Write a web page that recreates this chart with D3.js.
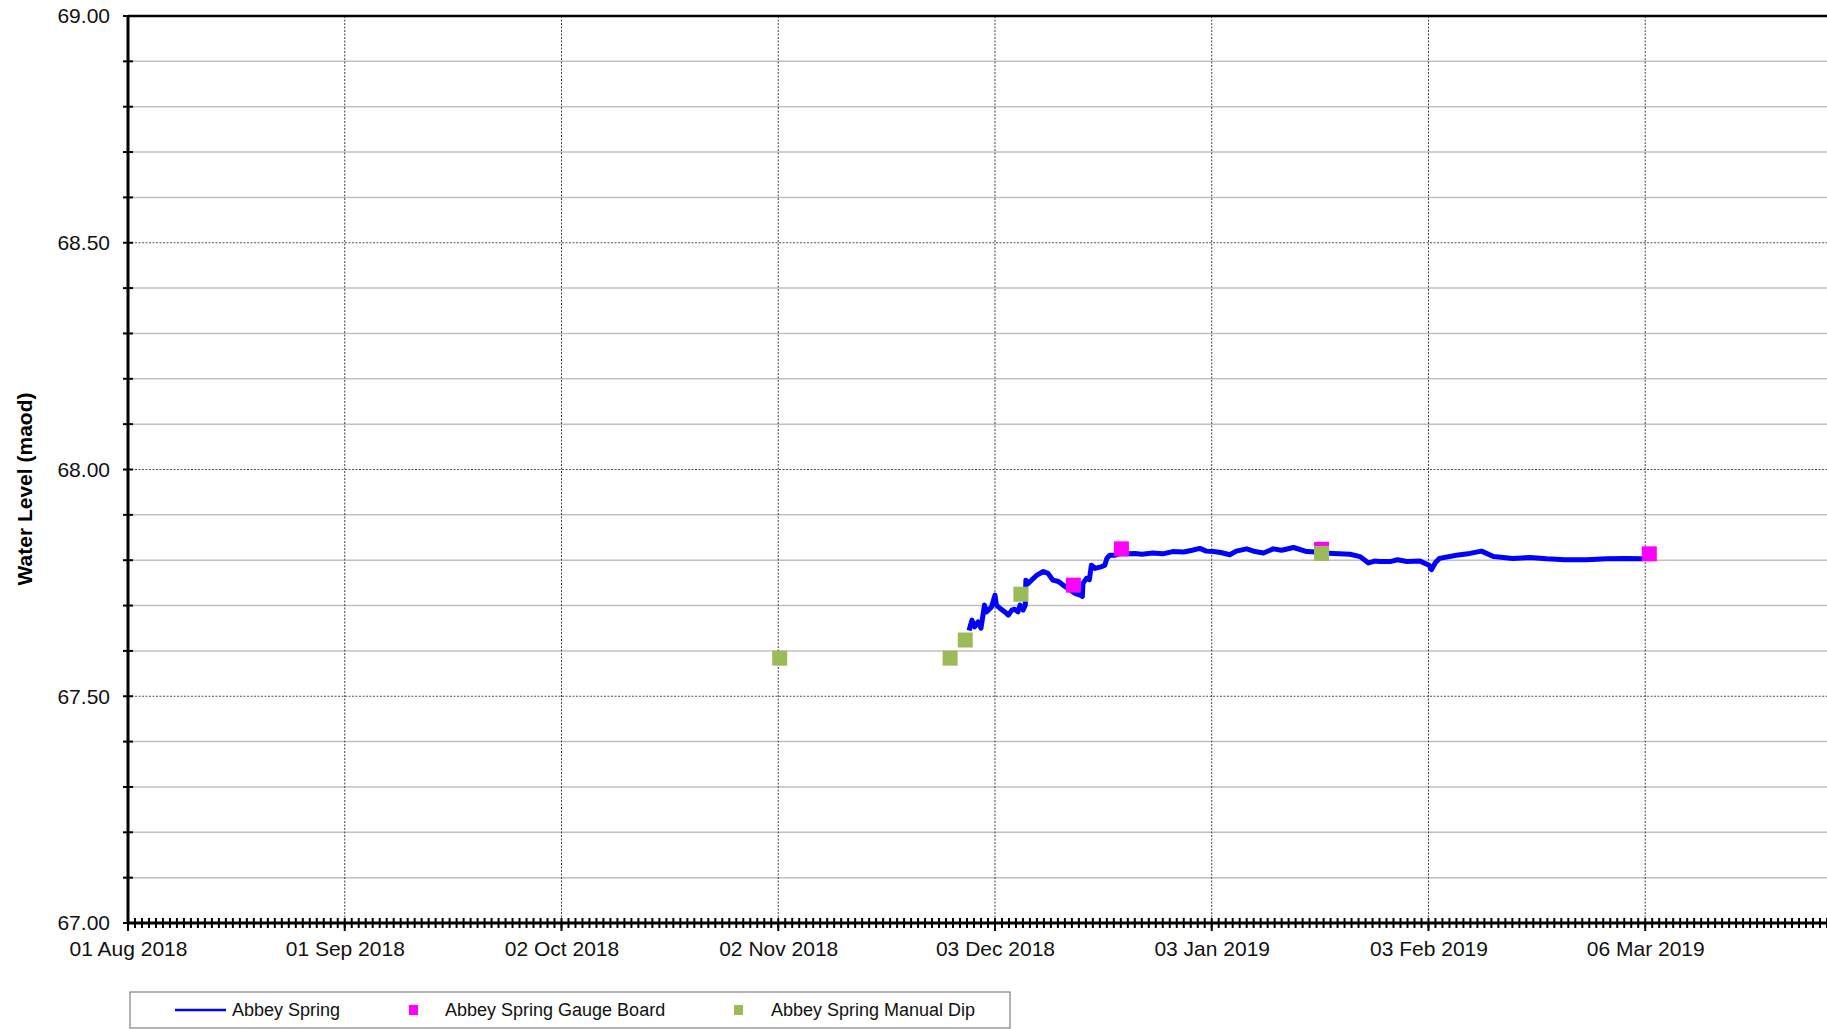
<!DOCTYPE html>
<html>
<head>
<meta charset="utf-8">
<script src="https://cdn.jsdelivr.net/npm/d3@7"></script>
<style>
body { margin: 0; background: #fff; }
text { font-family: "Liberation Sans", Arial, sans-serif; }
</style>
</head>
<body>
<div id="chart"></div>
<script>
// Abbey Spring logger (date, water level maod)
var springDates = ["2018-11-29 07:00","2018-11-29 17:00","2018-11-30 02:00","2018-11-30 14:00","2018-12-01 00:00",
  "2018-12-01 12:00","2018-12-01 19:00","2018-12-02 12:00","2018-12-03 00:00","2018-12-03 05:00","2018-12-03 17:00",
  "2018-12-04 10:00","2018-12-04 22:00","2018-12-05 10:00","2018-12-05 19:00","2018-12-06 07:00","2018-12-06 14:00",
  "2018-12-07 00:00","2018-12-07 08:00","2018-12-07 10:00","2018-12-07 19:00","2018-12-08 12:00","2018-12-09 00:00",
  "2018-12-09 22:00","2018-12-10 14:00","2018-12-11 07:00","2018-12-12 02:00","2018-12-13 00:00","2018-12-13 17:00",
  "2018-12-14 10:00","2018-12-15 05:00","2018-12-15 12:00","2018-12-15 14:00","2018-12-16 02:00","2018-12-16 12:00",
  "2018-12-16 19:00","2018-12-17 07:00","2018-12-18 07:00","2018-12-18 17:00","2018-12-19 00:00","2018-12-19 10:00",
  "2018-12-20 05:00","2018-12-21 00:00","2018-12-22 02:00","2018-12-23 00:00","2018-12-24 00:00","2018-12-25 14:00",
  "2018-12-27 00:00","2018-12-28 10:00","2018-12-30 00:00","2018-12-31 05:00","2019-01-01 07:00","2019-01-02 05:00",
  "2019-01-03 05:00","2019-01-04 07:00","2019-01-05 14:00","2019-01-06 12:00","2019-01-08 00:00","2019-01-09 05:00",
  "2019-01-10 10:00","2019-01-11 19:00","2019-01-13 00:00","2019-01-14 17:00","2019-01-16 14:00","2019-01-18 00:00",
  "2019-01-19 00:00","2019-01-20 10:00","2019-01-22 19:00","2019-01-24 05:00","2019-01-25 10:00","2019-01-26 07:00",
  "2019-01-27 02:00","2019-01-28 12:00","2019-01-29 14:00","2019-01-30 22:00","2019-02-01 19:00","2019-02-03 02:00",
  "2019-02-03 10:00","2019-02-04 00:00","2019-02-04 14:00","2019-02-07 00:00","2019-02-08 22:00","2019-02-10 14:00",
  "2019-02-12 07:00","2019-02-15 02:00","2019-02-17 12:00","2019-02-19 22:00","2019-02-22 12:00","2019-02-25 14:00",
  "2019-02-28 12:00","2019-03-03 07:00","2019-03-05 17:00"];
var springLevels = [67.645,67.668,67.653,67.664,67.650,
  67.701,67.686,67.697,67.723,67.701,67.694,
  67.686,67.679,67.690,67.692,67.686,67.701,
  67.690,67.701,67.756,67.749,67.760,67.767,
  67.775,67.771,67.756,67.753,67.742,67.735,
  67.727,67.723,67.720,67.749,67.760,67.757,
  67.789,67.782,67.786,67.789,67.804,67.811,
  67.811,67.815,67.814,67.815,67.813,67.816,
  67.814,67.819,67.818,67.822,67.826,67.820,
  67.819,67.817,67.812,67.820,67.825,67.819,
  67.816,67.825,67.822,67.828,67.819,67.818,
  67.816,67.815,67.813,67.808,67.794,67.798,
  67.797,67.797,67.801,67.797,67.798,67.789,
  67.779,67.795,67.804,67.811,67.815,67.820,
  67.808,67.804,67.806,67.803,67.801,67.801,
  67.803,67.804,67.803];

var gaugeDates = ["2018-12-14 05:00","2018-12-21 02:00","2019-01-18 17:00","2019-03-06 14:00"];
var gaugeLevels = [67.745, 67.825, 67.824, 67.814];

var dipDates = ["2018-11-02 05:00","2018-11-26 14:00","2018-11-28 18:00","2018-12-06 17:00","2019-01-18 17:00"];
var dipLevels = [67.584, 67.584, 67.624, 67.725, 67.815];

var xTickDates = ["2018-08-01","2018-09-01","2018-10-02","2018-11-02","2018-12-03","2019-01-03","2019-02-03","2019-03-06"];
var yMajorTicks = [67.0, 67.5, 68.0, 68.5, 69.0];

var parseT = d3.utcParse("%Y-%m-%d %H:%M");
var parseD = d3.utcParse("%Y-%m-%d");
var fmt = d3.utcFormat("%d %b %Y");

var W = 1827, H = 1029;
var plotLeft = 128, plotRight = 1827, plotTop = 16, plotBottom = 923;

var svg = d3.select("#chart").append("svg")
  .attr("width", W).attr("height", H);

var x = d3.scaleUtc()
  .domain([parseD("2018-08-01"), parseD("2019-04-01")])
  .range([plotLeft, plotRight]);
var y = d3.scaleLinear().domain([67, 69]).range([plotBottom, plotTop]);

var yMinor = d3.range(671, 691).map(d => d / 10);

// minor horizontal grid
svg.append("g").selectAll("line")
  .data(yMinor.filter(v => yMajorTicks.indexOf(v) < 0))
  .enter().append("line")
  .attr("x1", plotLeft).attr("x2", plotRight)
  .attr("y1", d => y(d)).attr("y2", d => y(d))
  .attr("stroke", "#c0c0c0").attr("stroke-width", 1.5);

// major horizontal grid (dotted)
svg.append("g").selectAll("line")
  .data([67.5, 68.0, 68.5])
  .enter().append("line")
  .attr("x1", plotLeft).attr("x2", plotRight)
  .attr("y1", d => y(d)).attr("y2", d => y(d))
  .attr("stroke", "#505050").attr("stroke-width", 1)
  .attr("stroke-dasharray", "2,1.5");

// vertical grid (dotted)
svg.append("g").selectAll("line")
  .data(xTickDates.slice(1).map(parseD))
  .enter().append("line")
  .attr("x1", d => x(d)).attr("x2", d => x(d))
  .attr("y1", plotTop).attr("y2", plotBottom)
  .attr("stroke", "#404040").attr("stroke-width", 1)
  .attr("stroke-dasharray", "2,1.5");

// logger line
var spring = springDates.map((d, i) => ({date: parseT(d), value: springLevels[i]}));
var line = d3.line().x(d => x(d.date)).y(d => y(d.value));
svg.append("path")
  .datum(spring)
  .attr("d", line)
  .attr("fill", "none")
  .attr("stroke", "#0000ff")
  .attr("stroke-width", 5)
  .attr("stroke-linejoin", "round");

var sq = 15;
// gauge board
svg.append("g").selectAll("rect")
  .data(gaugeDates.map((d, i) => ({date: parseT(d), value: gaugeLevels[i]})))
  .enter().append("rect")
  .attr("x", d => x(d.date) - sq / 2)
  .attr("y", d => y(d.value) - sq / 2)
  .attr("width", sq).attr("height", sq)
  .attr("fill", "#ff00ff");

// manual dip
svg.append("g").selectAll("rect")
  .data(dipDates.map((d, i) => ({date: parseT(d), value: dipLevels[i]})))
  .enter().append("rect")
  .attr("x", d => x(d.date) - sq / 2)
  .attr("y", d => y(d.value) - sq / 2)
  .attr("width", sq).attr("height", sq)
  .attr("fill", "#9bbb59");

// top border
svg.append("line")
  .attr("x1", plotLeft).attr("x2", plotRight)
  .attr("y1", plotTop).attr("y2", plotTop)
  .attr("stroke", "#000").attr("stroke-width", 2.5);

// y axis
svg.append("g").selectAll("line")
  .data(yMinor.concat([67.0]))
  .enter().append("line")
  .attr("x1", plotLeft - 5).attr("x2", plotLeft + 5)
  .attr("y1", d => y(d)).attr("y2", d => y(d))
  .attr("stroke", "#000").attr("stroke-width", 2);

svg.append("line")
  .attr("x1", plotLeft).attr("x2", plotLeft)
  .attr("y1", plotTop - 1).attr("y2", plotBottom + 1)
  .attr("stroke", "#000").attr("stroke-width", 3);

svg.append("g").selectAll("text")
  .data(yMajorTicks)
  .enter().append("text")
  .attr("x", 110)
  .attr("y", d => y(d))
  .attr("dy", "0.35em")
  .attr("text-anchor", "end")
  .attr("font-size", "21px")
  .attr("fill", "#111")
  .text(d => d.toFixed(2));

svg.append("text")
  .attr("transform", "translate(32,489)rotate(-90)")
  .attr("text-anchor", "middle")
  .attr("font-size", "21px")
  .attr("font-weight", "bold")
  .attr("fill", "#000")
  .text("Water Level (maod)");

// x axis: daily ticks
var days = d3.utcDay.range(x.domain()[0], d3.utcDay.offset(x.domain()[1], 1));
svg.append("g").selectAll("line")
  .data(days)
  .enter().append("line")
  .attr("x1", d => x(d)).attr("x2", d => x(d))
  .attr("y1", plotBottom - 5).attr("y2", plotBottom + 5)
  .attr("stroke", "#000").attr("stroke-width", 2);

svg.append("g").selectAll("line")
  .data(xTickDates.map(parseD))
  .enter().append("line")
  .attr("x1", d => x(d)).attr("x2", d => x(d))
  .attr("y1", plotBottom).attr("y2", plotBottom + 8)
  .attr("stroke", "#000").attr("stroke-width", 2);

svg.append("line")
  .attr("x1", plotLeft).attr("x2", plotRight)
  .attr("y1", plotBottom).attr("y2", plotBottom)
  .attr("stroke", "#000").attr("stroke-width", 3);

var xAxis = d3.axisBottom(x)
  .tickValues(xTickDates.map(parseD))
  .tickSize(0).tickPadding(0)
  .tickFormat(fmt);
var gx = svg.append("g")
  .attr("transform", "translate(0," + (plotBottom + 18) + ")")
  .call(xAxis);
gx.select(".domain").remove();
gx.selectAll("text")
  .attr("font-size", "21px")
  .attr("font-family", "'Liberation Sans', Arial, sans-serif")
  .attr("fill", "#111");

// legend
var lg = svg.append("g");
lg.append("rect")
  .attr("x", 130).attr("y", 992)
  .attr("width", 880).attr("height", 36)
  .attr("fill", "#fff")
  .attr("stroke", "#808080").attr("stroke-width", 1.2);
var ly = 1010;
lg.append("line")
  .attr("x1", 175).attr("x2", 226)
  .attr("y1", ly).attr("y2", ly)
  .attr("stroke", "#0000ff").attr("stroke-width", 2.5);
lg.append("rect")
  .attr("x", 409).attr("y", ly - 5)
  .attr("width", 9).attr("height", 10)
  .attr("fill", "#ff00ff");
lg.append("rect")
  .attr("x", 734).attr("y", ly - 5)
  .attr("width", 9).attr("height", 10)
  .attr("fill", "#9bbb59");
var legendNames = ["Abbey Spring", "Abbey Spring Gauge Board", "Abbey Spring Manual Dip"];
var legendX = [232, 445, 771];
lg.selectAll("text.leg")
  .data(legendNames)
  .enter().append("text")
  .attr("class", "leg")
  .attr("x", (d, i) => legendX[i])
  .attr("y", ly)
  .attr("dy", "0.35em")
  .attr("font-size", "18px")
  .attr("fill", "#111")
  .text(d => d);
</script>
</body>
</html>
